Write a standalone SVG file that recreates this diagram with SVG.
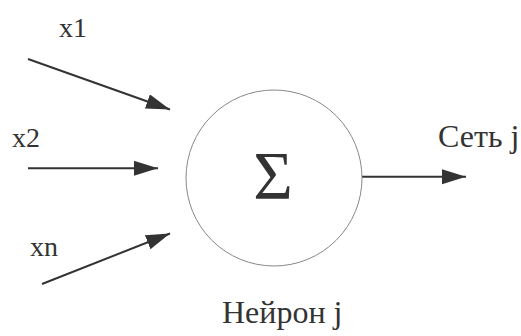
<svg xmlns="http://www.w3.org/2000/svg" width="521" height="336" viewBox="0 0 521 336">
  <style>
    text { font-family: 'Liberation Serif', 'Times New Roman', serif; fill: #333; }
    .lbl { font-size: 28px; }
    .big { font-size: 32px; }
    .edge { stroke: #333; stroke-width: 2; fill: none; marker-end: url(#head); }
  </style>
  <defs>
    <marker id="head" markerUnits="userSpaceOnUse" markerWidth="25" markerHeight="16" refX="24" refY="7.5" orient="auto">
      <path d="M0,0 L24,7.5 L0,15 z" fill="#333"/>
    </marker>
  </defs>
  <rect width="521" height="336" fill="#fff"/>

  <g id="connectors">
    <line class="edge" x1="28" y1="59" x2="170" y2="109.5"/>
    <line class="edge" x1="28" y1="168.3" x2="158" y2="168.3"/>
    <line class="edge" x1="42" y1="284" x2="170" y2="233.5"/>
    <line class="edge" x1="362" y1="176.7" x2="466" y2="176.7"/>
  </g>

  <g id="input-x1"><text class="lbl" x="59" y="37">x1</text></g>
  <g id="input-x2"><text class="lbl" x="12" y="147">x2</text></g>
  <g id="input-xn"><text class="lbl" x="30" y="256">xn</text></g>

  <g id="neuron">
    <circle cx="274" cy="178" r="88" fill="#fff" stroke="#888" stroke-width="1"/>
    <text x="273" y="198" text-anchor="middle" style="font-size:68px">Σ</text>
    <text class="big" x="222" y="323">Нейрон j</text>
  </g>

  <g id="output">
    <text class="big" x="438" y="147">Сеть j</text>
  </g>
</svg>
